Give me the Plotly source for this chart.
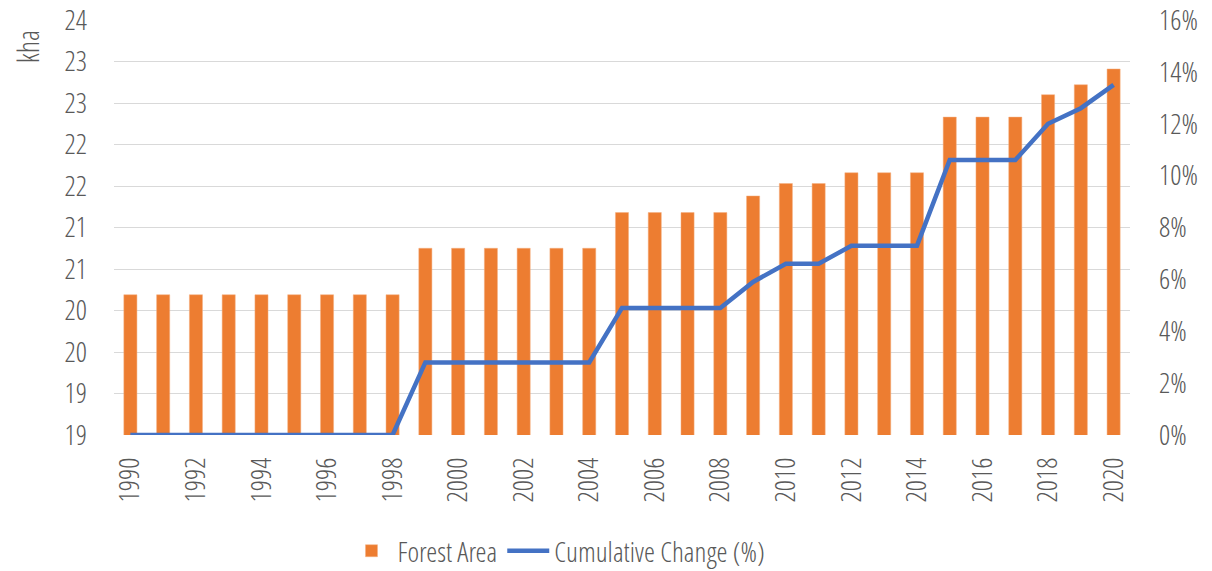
import plotly.graph_objects as go

years = [str(y) for y in range(1990, 2021)]
forest_area = [20.19]*9 + [20.75]*6 + [21.18]*4 + [21.38, 21.53, 21.53] + [21.66]*3 + [22.33]*3 + [22.60, 22.72, 22.91]
cum_change = [0.0]*9 + [0.028]*6 + [0.049]*4 + [0.059, 0.066, 0.066] + [0.073]*3 + [0.106]*3 + [0.120, 0.126, 0.135]

left_ticks = [18.5 + 0.5*i for i in range(11)]
left_labels = ["19", "19", "20", "20", "21", "21", "22", "22", "23", "23", "24"]
right_ticks = [0.02*i for i in range(9)]
right_labels = [f"{2*i}%" for i in range(9)]
x_ticks = years[::2]

FONT = "Open Sans Condensed Light, Roboto Condensed, sans-serif"
GREY = "#595959"

fig = go.Figure()
fig.add_trace(go.Bar(x=years, y=forest_area, name="Forest Area",
                     marker=dict(color="#ED7D31", line=dict(color="#F4B183", width=0.5)),
                     yaxis="y"))
fig.add_trace(go.Scatter(x=years, y=cum_change, name="Cumulative Change (%)",
                         mode="lines", line=dict(color="#4472C4", width=4.5),
                         yaxis="y2"))

fig.update_layout(
    width=1204, height=563,
    margin=dict(l=106, r=82, t=12, b=136),
    paper_bgcolor="white", plot_bgcolor="white",
    font=dict(family=FONT, color=GREY, size=28),
    bargap=0.6,
    showlegend=True,
    legend=dict(orientation="h", x=0.437, xanchor="center", yref="container", y=0.0355,
                yanchor="middle", itemwidth=42,
                font=dict(family=FONT, size=28, color=GREY)),
    xaxis=dict(type="category", tickvals=x_ticks, ticktext=x_ticks, tickangle=-90,
               showgrid=False, showline=False, ticks="", ticklabelstandoff=16,
               ticklabeloverflow="allow",
               tickfont=dict(family=FONT, size=28, color=GREY), automargin=False),
    yaxis=dict(range=[18.5, 23.5], tickvals=left_ticks, ticktext=left_labels,
               showgrid=True, gridcolor="#D9D9D9", gridwidth=1.3, zeroline=False,
               showline=False, ticks="", ticklabelstandoff=26, automargin=False,
               ticklabeloverflow="allow",
               tickfont=dict(family=FONT, size=28, color=GREY)),
    yaxis2=dict(range=[0, 0.16], tickvals=right_ticks, ticktext=right_labels,
                overlaying="y", side="right", showgrid=False, zeroline=False,
                showline=False, ticks="", ticklabelstandoff=28, automargin=False,
                ticklabeloverflow="allow",
                tickfont=dict(family=FONT, size=28, color=GREY)),
    annotations=[dict(text="kha", textangle=-90, xref="paper", yref="paper",
                      x=-0.0855, y=0.937, xanchor="center", yanchor="middle",
                      showarrow=False, font=dict(family=FONT, size=29, color=GREY))],
)

fig.write_html("out.html")
